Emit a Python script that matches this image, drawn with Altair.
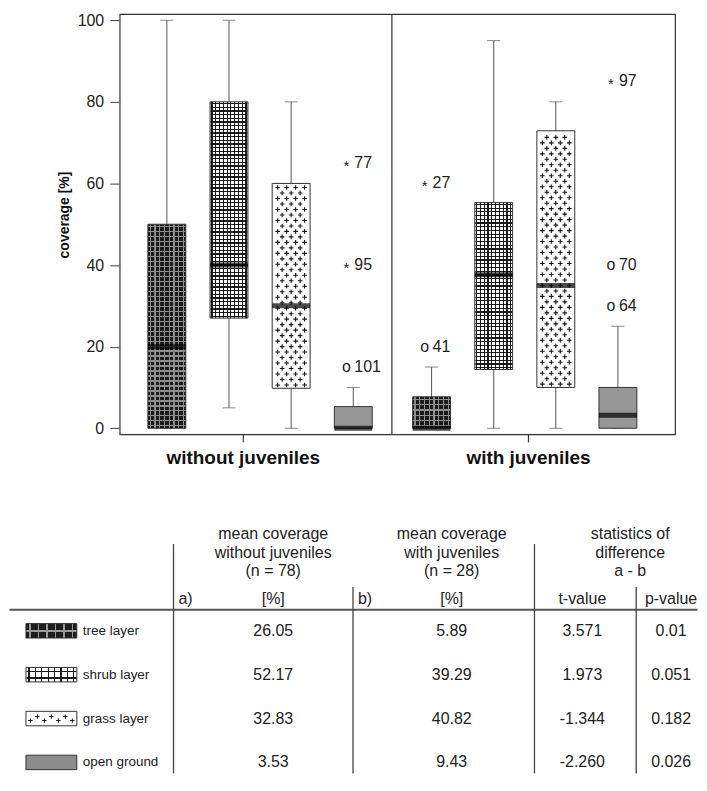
import altair as alt
import pandas as pd

# ---------------- data ----------------
layers = ["tree layer", "shrub layer", "grass layer", "open ground"]
panels = ["without juveniles", "with juveniles"]

# box statistics, coverage [%]
wo_low = [0, 5, 0, 0]
wo_q1 = [0, 27, 9.8, 0]
wo_med = [20, 40, 30, 0]
wo_q3 = [50, 80, 60, 5.3]
wo_high = [100, 100, 80, 10]

wi_low = [0, 0, 0, 0]
wi_q1 = [0, 14.4, 10, 0]
wi_med = [0, 37.6, 35, 3.2]
wi_q3 = [7.7, 55.3, 72.9, 10]
wi_high = [15, 95, 80, 25]

# outliers / extremes
wo_out_layer = ["open ground", "open ground", "open ground"]
wo_out_value = [65, 40, 15]
wo_out_marker = ["*", "*", "o"]
wo_out_id = ["77", "95", "101"]

wi_out_layer = ["tree layer", "tree layer", "open ground", "open ground", "open ground"]
wi_out_value = [60, 20, 85, 40, 30]
wi_out_marker = ["*", "o", "*", "o", "o"]
wi_out_id = ["27", "41", "97", "70", "64"]

# table
header_a = ["mean coverage", "without juveniles", "(n = 78)"]
header_b = ["mean coverage", "with juveniles", "(n = 28)"]
header_s = ["statistics of", "difference", "a - b"]
subhead = ["a)", "[%]", "b)", "[%]", "t-value", "p-value"]
mean_a = ["26.05", "52.17", "32.83", "3.53"]
mean_b = ["5.89", "39.29", "40.82", "9.43"]
t_values = ["3.571", "1.973", "-1.344", "-2.260"]
p_values = ["0.01", "0.051", "0.182", "0.026"]

# ---------------- layout / style (plot-area pixel frame) ----------------
FONT = "Liberation Sans"
PH = 421.5                 # height of the box-plot panels
W1, W2 = 273, 284          # panel widths
YMIN, YMAX = -1.5, 101.5
PXU = PH / (YMAX - YMIN)
BW = 38                    # box width
LEFT = -111                # left page edge in plot frame
RIGHT = 580                # right page edge in plot frame
BOTTOM = 761.5

STYLE = {
    "tree layer": dict(kind="grid", base="#1b1b1b", line="#8e8e8e", vstep=4.9, hstep=5.0, lw=1.3),
    "shrub layer": dict(kind="grid", base="#ffffff", line="#1a1a1a", vstep=3.9, hstep=3.7, lw=1.2),
    "grass layer": dict(kind="plus", base="#ffffff"),
    "open ground": dict(kind="solid", base="#979797"),
}
CLEAR = "rgba(0,0,0,0)"


def stripes(n, base, line, frac, along_x):
    stops = [alt.GradientStop(color=base, offset=0)]
    for i in range(n):
        c = (i + 0.5) / n
        a = round(max(0.0, c - frac / 2), 5)
        b = round(min(1.0, c + frac / 2), 5)
        stops += [
            alt.GradientStop(color=base, offset=a),
            alt.GradientStop(color=line, offset=a),
            alt.GradientStop(color=line, offset=b),
            alt.GradientStop(color=base, offset=b),
        ]
    stops.append(alt.GradientStop(color=base, offset=1))
    if along_x:
        return alt.LinearGradient(gradient="linear", stops=stops, x1=0, y1=0, x2=1, y2=0)
    return alt.LinearGradient(gradient="linear", stops=stops, x1=0, y1=0, x2=0, y2=1)


def plus_path(xs_px, ys_px, arm_px, unit_px):
    out = []
    for x, y in zip(xs_px, ys_px):
        u, v, a = x / unit_px, y / unit_px, arm_px / unit_px
        out.append(f"M{u - a:.4f},{v:.4f}H{u + a:.4f}M{u:.4f},{v - a:.4f}V{v + a:.4f}")
    return "".join(out)


# one row of the "+" texture inside grass boxes (symbol size 1600 -> 20 px per unit)
ROW_EVEN = plus_path([-13.5, -4.5, 4.5, 13.5], [0, 0, 0, 0], 2.3, 20)
ROW_ODD = plus_path([-9, 0, 9], [0, 0, 0], 2.3, 20)
ROW_STEP = 5.5

yscale = alt.Scale(domain=[YMIN, YMAX], range=[PH, 0], nice=False, zero=False)
yaxis = alt.Axis(
    title="coverage [%]", values=[0, 20, 40, 60, 80, 100], grid=False, domain=False,
    tickSize=10, tickColor="#444", labelPadding=6, labelFontSize=16, labelColor="#222",
    labelFont=FONT, titleFont=FONT, titleFontSize=14, titleFontWeight="bold",
    titleColor="#111", titlePadding=6, titleY=201,
)


def make_panel(idx, low, q1, med, q3, high, o_layer, o_val, o_mark, o_id,
               rng, pad, align, label_x, show_axis):
    df = pd.DataFrame({"layer": layers, "low": low, "q1": q1, "median": med,
                       "q3": q3, "high": high})
    odf = pd.DataFrame({"layer": o_layer, "value": o_val, "marker": o_mark, "id": o_id})
    xenc = alt.X("layer:N", sort=layers, axis=None,
                 scale=alt.Scale(type="point", domain=layers, range=rng,
                                 padding=pad, align=align))

    def Y(f, with_axis=False):
        return alt.Y(f, type="quantitative", scale=yscale,
                     axis=yaxis if (with_axis and show_axis) else None)

    base = alt.Chart(df)
    parts = [
        base.mark_rule(color="#555", strokeWidth=1).encode(x=xenc, y=Y("low", True), y2="high"),
        base.mark_tick(size=13, thickness=1, color="#555").encode(x=xenc, y=Y("high")),
        base.mark_tick(size=13, thickness=1, color="#555").encode(x=xenc, y=Y("low")),
    ]
    for i, name in enumerate(layers):
        st = STYLE[name]
        h = max(1.0, (q3[i] - q1[i]) * PXU)
        sub = base.transform_filter(alt.datum.layer == name)
        if st["kind"] == "grid":
            fill = stripes(round(BW / st["vstep"]), st["base"], st["line"], st["lw"] / BW, True)
        else:
            fill = st["base"]
        parts.append(sub.mark_bar(size=BW, fill=fill, stroke="#333", strokeWidth=1)
                     .encode(x=xenc, y=Y("q1"), y2="q3"))
        if st["kind"] == "grid":
            hf = stripes(max(1, round(h / st["hstep"])), CLEAR, st["line"], st["lw"] / h, False)
            parts.append(sub.mark_bar(size=BW - 1, fill=hf, strokeWidth=0)
                         .encode(x=xenc, y=Y("q1"), y2="q3"))
        elif st["kind"] == "plus":
            parts.append(
                sub.transform_calculate(
                    k=f"sequence(0, floor((datum.q3 - datum.q1) * {PXU} / {ROW_STEP}))")
                .transform_flatten(["k"])
                .transform_calculate(
                    ypos=f"datum.q1 + (datum.k + 0.6) * {ROW_STEP} / {PXU}",
                    shp=f"datum.k % 2 == 0 ? '{ROW_EVEN}' : '{ROW_ODD}'")
                .mark_point(filled=False, size=1600, stroke="#151515", strokeWidth=1.1,
                            opacity=1)
                .encode(x=xenc, y=Y("ypos"), shape=alt.Shape("shp:N", scale=None, legend=None)))
    parts.append(base.mark_tick(size=BW, thickness=5, color="#000").encode(x=xenc, y=Y("median")))

    ob = alt.Chart(odf)
    parts += [
        ob.transform_filter(alt.datum.marker == "o").mark_text(
            text="o", font=FONT, fontSize=16, dx=-7, align="center", baseline="middle",
            color="#222").encode(x=xenc, y=Y("value")),
        ob.transform_filter(alt.datum.marker == "*").mark_text(
            text="*", font=FONT, fontSize=15, dx=-7, dy=3, align="center", baseline="middle",
            color="#222").encode(x=xenc, y=Y("value")),
        ob.mark_text(font=FONT, fontSize=16, dx=1, align="left", baseline="middle",
                     color="#222").encode(x=xenc, y=Y("value"), text="id:N"),
    ]
    lab = alt.Chart(pd.DataFrame({"panel": [panels[idx]]}))
    parts += [
        lab.mark_text(font=FONT, fontSize=19, fontWeight="bold", align="center",
                      baseline="middle", color="#111")
        .encode(text="panel:N", x=alt.value(label_x), y=alt.value(PH + 24)),
        lab.mark_rule(color="#333", strokeWidth=1.2)
        .encode(x=alt.value(label_x), y=alt.value(PH), y2=alt.value(PH + 8)),
    ]
    return parts


parts = []
parts += make_panel(0, wo_low, wo_q1, wo_med, wo_q3, wo_high,
                    wo_out_layer, wo_out_value, wo_out_marker, wo_out_id,
                    [0, W1], 0.69, 0.55, 124, True)
parts += make_panel(1, wi_low, wi_q1, wi_med, wi_q3, wi_high,
                    wi_out_layer, wi_out_value, wi_out_marker, wi_out_id,
                    [W1, W1 + W2], 0.78, 0.41, W1 + 137, False)

dummy = alt.Chart(pd.DataFrame({"k": [0]}))
# panel divider and an invisible anchor fixing the top-left corner of the page
parts.append(dummy.mark_rule(color="#333", strokeWidth=1.2)
             .encode(x=alt.value(W1), y=alt.value(0), y2=alt.value(PH)))
parts.append(dummy.mark_rule(opacity=0, strokeWidth=1)
             .encode(x=alt.value(LEFT + 0.5), y=alt.value(-5), y2=alt.value(0)))

# ---------------- table ----------------
tdf = pd.DataFrame({"layer": layers, "a": mean_a, "b": mean_b, "t": t_values, "p": p_values})
ty = alt.Y("layer:N", axis=None,
           scale=alt.Scale(type="point", domain=layers, range=[618.5, 750.5], padding=0))
tc = alt.Chart(tdf)

parts.append(dummy.mark_rule(color="#555", strokeWidth=2)
             .encode(x=alt.value(LEFT + 0.5), x2=alt.value(RIGHT - 0.5), y=alt.value(597.5)))
for xv, y0 in [(54, 531.5), (234, 574.5), (416, 531.5), (518, 574.5)]:
    parts.append(dummy.mark_rule(color="#444", strokeWidth=1.3)
                 .encode(x=alt.value(xv), y=alt.value(y0), y2=alt.value(BOTTOM)))
for lines, xv in [(header_a, 154), (header_b, 333), (header_s, 512)]:
    for txt, yv in zip(lines, [521.5, 540, 558.5]):
        parts.append(dummy.mark_text(text=txt, font=FONT, fontSize=16, align="center",
                                     baseline="middle", color="#222")
                     .encode(x=alt.value(xv), y=alt.value(yv)))
for txt, xv, al in zip(subhead, [59, 154, 239, 333, 464, 553],
                       ["left", "center", "left", "center", "center", "center"]):
    parts.append(dummy.mark_text(text=txt, font=FONT, fontSize=16, align=al,
                                 baseline="middle", color="#222")
                 .encode(x=alt.value(xv), y=alt.value(586.5)))
for field, xv in [("a", 154), ("b", 333), ("t", 464), ("p", 553)]:
    parts.append(tc.mark_text(font=FONT, fontSize=16, align="center", baseline="middle",
                              color="#222")
                 .encode(x=alt.value(xv), y=ty, text=f"{field}:N"))
parts.append(tc.mark_text(font=FONT, fontSize=13.5, align="left", baseline="middle",
                          color="#222")
             .encode(x=alt.value(-37), y=ty, text="layer:N"))

SW, SH = 51, 14.5
SX = -68.5
swatch_fill = {
    "tree layer": (stripes(6, "#1e1e1e", "#9a9a9a", 1.4 / SW, True),
                   stripes(1, CLEAR, "#9a9a9a", 1.5 / SH, False)),
    "shrub layer": (stripes(8, "#ffffff", "#1a1a1a", 1.3 / SW, True),
                    stripes(2, CLEAR, "#1a1a1a", 1.3 / SH, False)),
    "grass layer": ("#ffffff", None),
    "open ground": ("#8c8c8c", None),
}
SWATCH_PLUS = plus_path([-21, -14, -7, 0, 7, 14, 21], [2, -2, 2, -2, 2, -2, 2], 2.2, 25.5)
for name in layers:
    f1, f2 = swatch_fill[name]
    sub = tc.transform_filter(alt.datum.layer == name)
    parts.append(sub.mark_tick(orient="horizontal", size=SW, thickness=SH, fill=f1,
                               stroke="#333", strokeWidth=1, opacity=1)
                 .encode(x=alt.value(SX), y=ty))
    if f2 is not None:
        parts.append(sub.mark_tick(orient="horizontal", size=SW - 1, thickness=SH - 1,
                                   fill=f2, strokeWidth=0, opacity=1)
                     .encode(x=alt.value(SX), y=ty))
    if name == "grass layer":
        parts.append(sub.mark_point(shape=SWATCH_PLUS, size=SW * SW, filled=False,
                                    stroke="#151515", strokeWidth=1, opacity=1)
                     .encode(x=alt.value(SX), y=ty))

chart = alt.layer(*parts).resolve_scale(x="independent", y="independent").properties(
    width=W1 + W2, height=PH, padding=0
).configure(font=FONT).configure_view(stroke="#333", strokeWidth=1.2)

chart.save("out.html", embed_options={"renderer": "svg", "actions": False})
